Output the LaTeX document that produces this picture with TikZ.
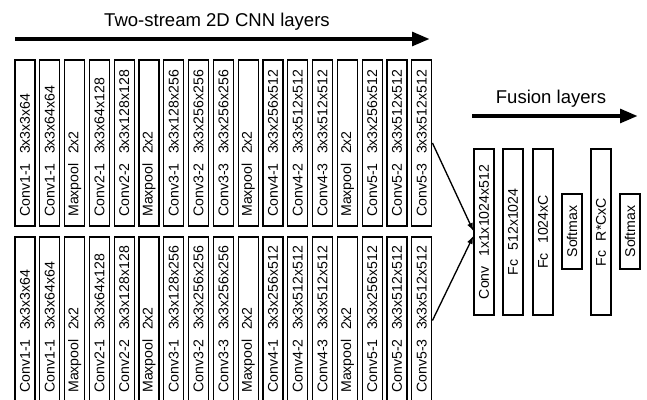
\documentclass[tikz,border=0pt]{standalone}
\usepackage{fontspec}
\setmainfont{Liberation Sans}
\usetikzlibrary{arrows.meta,calc}
\tikzset{
  layerbox/.style={draw=black, line width=0.95pt, fill=white, minimum width=15pt, inner sep=0pt},
  lbl/.style={rotate=90, inner sep=0pt, font=\fontsize{10.6}{12}\selectfont},
  bigarrow/.style={line width=3.4pt, -{Triangle[length=13.5pt,width=10pt]}},
  thinarrow/.style={line width=1pt, -{Latex[length=6pt,width=4.5pt]}},
  ttl/.style={font=\fontsize{13.9}{16}\selectfont, inner sep=0pt}
}
\begin{document}
\begin{tikzpicture}[x=0.75pt,y=0.75pt]
\clip (0,0) rectangle (647,400);
\fill[white] (0,0) rectangle (647,400);
% titles
\node[ttl] (title) at (217,378) {Two-stream 2D CNN layers};
\coordinate (a0) at (15,361);
\coordinate (a1) at (430,361);
\draw[bigarrow] (a0) -- (a1);
\node[ttl] (ftitle) at (551,301) {Fusion layers};
\coordinate (f0) at (472,284);
\coordinate (f1) at (638,284);
\draw[bigarrow] (f0) -- (f1);
% streams
\foreach \a/\b [count=\i from 0] in {Conv1-1/3x3x3x64, Conv1-1/3x3x64x64, Maxpool/2x2, Conv2-1/3x3x64x128, Conv2-2/3x3x128x128, Maxpool/2x2, Conv3-1/3x3x128x256, Conv3-2/3x3x256x256, Conv3-3/3x3x256x256, Maxpool/2x2, Conv4-1/3x3x256x512, Conv4-2/3x3x512x512, Conv4-3/3x3x512x512, Maxpool/2x2, Conv5-1/3x3x256x512, Conv5-2/3x3x512x512, Conv5-3/3x3x512x512}{
  \pgfmathsetmacro\xx{25+24.8*\i}
  \node[layerbox, minimum height=124.5pt] (t\i) at (\xx,257) {};
  \node[lbl, anchor=west] (tl\i) at (\xx,183) {\a\hspace{7pt}\b};
  \node[layerbox, minimum height=144.75pt] (b\i) at (\xx,66.5) {};
  \node[lbl, anchor=west] (bl\i) at (\xx,7) {\a\hspace{7pt}\b};
}
% fusion boxes
\node[layerbox, minimum height=124.5pt] (conv) at (484,168) {};
\node[lbl] (convl) at (conv.center) {Conv\hspace{7pt}1x1x1024x512};
\node[layerbox, minimum height=124.5pt] (fc1) at (513,168) {};
\node[lbl] (fc1l) at (fc1.center) {Fc\hspace{7pt}512x1024};
\node[layerbox, minimum height=124.5pt] (fc2) at (543,168) {};
\node[lbl] (fc2l) at (fc2.center) {Fc\hspace{7pt}1024xC};
\node[layerbox, minimum height=56.25pt] (sm1) at (572,168.5) {};
\node[lbl] (sm1l) at (sm1.center) {Softmax};
\node[layerbox, minimum height=124.5pt] (fc3) at (601,168) {};
\node[lbl] (fc3l) at (fc3.center) {Fc\hspace{7pt}R*CxC};
\node[layerbox, minimum height=56.25pt] (sm2) at (630,168.5) {};
\node[lbl] (sm2l) at (sm2.center) {Softmax};
% connectors
\draw[thinarrow] (t16.east) -- ($(conv.west)+(0,1)$);
\draw[thinarrow] ($(b16.east)+(0,13)$) -- ($(conv.west)+(0,-4)$);
\end{tikzpicture}
\end{document}
